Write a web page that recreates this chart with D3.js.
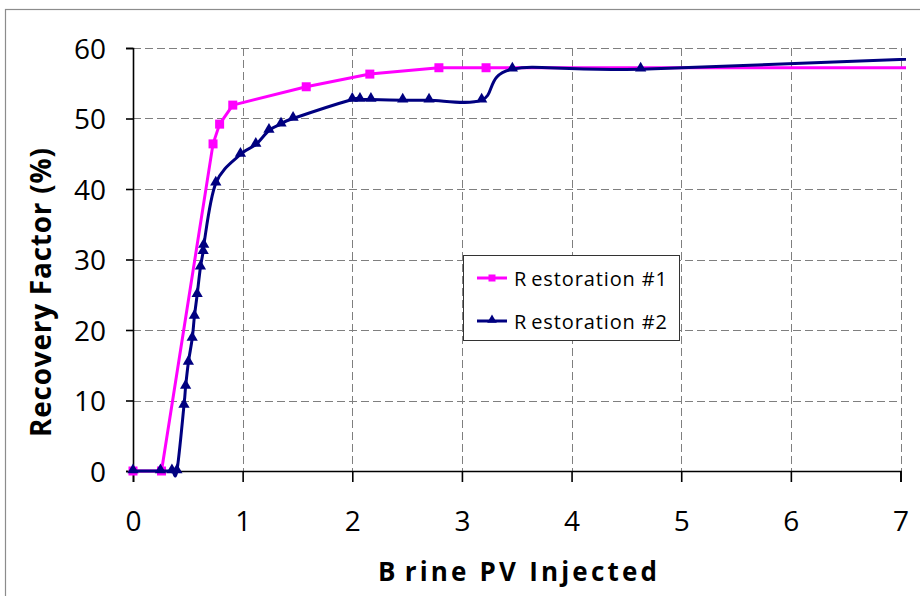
<!DOCTYPE html>
<html>
<head>
<meta charset="utf-8">
<script src="https://cdn.jsdelivr.net/npm/d3@7"></script>
<style>
  body { margin: 0; background: #fff; }
  svg { display: block; font-family: "Open Sans", "Noto Sans", sans-serif; }
</style>
</head>
<body>
<svg id="chart" width="920" height="596"></svg>
<script>
// Axis ticks
const xTicks = [0, 1, 2, 3, 4, 5, 6, 7];
const yTicks = [0, 10, 20, 30, 40, 50, 60];

// Restoration #1 (brine PV injected, recovery factor %)
const r1X = [0, 0.26, 0.73, 0.79, 0.91, 1.58, 2.16, 2.79, 3.22, 7.6];
const r1Y = [0, 0, 46.4, 49.2, 51.9, 54.5, 56.3, 57.2, 57.2, 57.2];

// Restoration #2
const r2X = [0, 0.25, 0.355, 0.40, 0.465, 0.48, 0.505, 0.54, 0.56, 0.585, 0.615, 0.64, 0.645,
             0.755, 0.98, 1.12, 1.24, 1.35, 1.46, 2.0, 2.07, 2.17, 2.46, 2.70, 3.18, 3.46, 4.63, 8.0];
const r2Y = [0, 0, 0, 0, 9.3, 12.0, 15.4, 18.8, 21.9, 25.0, 28.9, 31.1, 32.0,
             40.8, 44.9, 46.3, 48.3, 49.2, 50.0, 52.7, 52.7, 52.7, 52.6, 52.6, 52.6, 57.0, 57.0, 59.0];

const seriesNames = ["Restoration #1", "Restoration #2"];
const seriesColors = ["#ff00ff", "#000080"];

const svg = d3.select("#chart");

const x = d3.scaleLinear().domain([0, 7]).range([133, 900.5]);
const y = d3.scaleLinear().domain([0, 60]).range([471, 48]);

// Outer chart frame
svg.append("rect")
  .attr("x", 5.5).attr("y", 9.5).attr("width", 1000).attr("height", 700)
  .attr("fill", "#fff").attr("stroke", "#8c8c8c").attr("stroke-width", 1.2);

// Dashed gridlines
const grid = svg.append("g").attr("stroke", "#7f7f7f").attr("stroke-width", 1)
  .attr("stroke-dasharray", "8,4").attr("shape-rendering", "crispEdges");
grid.selectAll("line.h").data(yTicks.filter(d => d > 0)).join("line")
  .attr("x1", x(0)).attr("x2", x(7))
  .attr("y1", d => Math.round(y(d)) + 0.5).attr("y2", d => Math.round(y(d)) + 0.5);
grid.selectAll("line.v").data(xTicks.filter(d => d > 0)).join("line")
  .attr("y1", y(60)).attr("y2", y(0))
  .attr("x1", d => Math.round(x(d)) + 0.5).attr("x2", d => Math.round(x(d)) + 0.5);

// Axes
const xAxis = svg.append("g").attr("transform", `translate(0,${y(0)})`)
  .call(d3.axisBottom(x).tickValues(xTicks).tickFormat(d3.format("d")).tickSize(11).tickPadding(29));
const yAxis = svg.append("g").attr("transform", `translate(${x(0)},0)`)
  .call(d3.axisLeft(y).tickValues(yTicks).tickFormat(d3.format("d")).tickSize(7).tickPadding(20));
[xAxis, yAxis].forEach(a => {
  a.select(".domain").attr("stroke", "#000").attr("stroke-width", 1.6);
  a.selectAll(".tick line").attr("stroke", "#000").attr("stroke-width", 1.6);
  a.selectAll(".tick text").attr("fill", "#000").style("font-size", "28px")
    .style("font-family", "'Open Sans', 'Noto Sans', sans-serif");
});
yAxis.selectAll(".tick text").attr("dy", "0.36em");

// Plot clip (lines run slightly past the last gridline)
svg.append("clipPath").attr("id", "plotClip")
  .append("rect").attr("x", 0).attr("y", 0).attr("width", 906).attr("height", 596);

const plot = svg.append("g").attr("clip-path", "url(#plotClip)");

const r1 = r1X.map((v, i) => [v, r1Y[i]]);
const r2 = r2X.map((v, i) => [v, r2Y[i]]);

const straight = d3.line().x(d => x(d[0])).y(d => y(d[1]));
const smooth = d3.line().x(d => x(d[0])).y(d => y(d[1])).curve(d3.curveCardinal.tension(0));

plot.append("path").datum(r1).attr("d", straight)
  .attr("fill", "none").attr("stroke", seriesColors[0]).attr("stroke-width", 3)
  .attr("stroke-linejoin", "round");
plot.selectAll("rect.m1").data(r1).join("rect").attr("class", "m1")
  .attr("x", d => x(d[0]) - 4.5).attr("y", d => y(d[1]) - 4.5)
  .attr("width", 9).attr("height", 9).attr("fill", seriesColors[0]);

plot.append("path").datum(r2).attr("d", smooth)
  .attr("fill", "none").attr("stroke", seriesColors[1]).attr("stroke-width", 3)
  .attr("stroke-linejoin", "round");
const tri = d3.symbol().type(d3.symbolTriangle).size(55);
plot.selectAll("path.m2").data(r2).join("path").attr("class", "m2")
  .attr("d", tri).attr("transform", d => `translate(${x(d[0])},${y(d[1]) - 1})`)
  .attr("fill", seriesColors[1]);

// Legend
const lg = svg.append("g");
lg.append("rect").attr("x", 463.5).attr("y", 255.5).attr("width", 216).attr("height", 85)
  .attr("fill", "#fff").attr("stroke", "#333").attr("stroke-width", 1);
const legendY = [278, 321];
seriesNames.forEach((name, i) => {
  const g = lg.append("g").attr("transform", `translate(0,${legendY[i]})`);
  g.append("line").attr("x1", 477).attr("x2", 507).attr("y1", 0).attr("y2", 0)
    .attr("stroke", seriesColors[i]).attr("stroke-width", 3);
  if (i === 0) {
    g.append("rect").attr("x", 488.5).attr("y", -3.5).attr("width", 7).attr("height", 7)
      .attr("fill", seriesColors[i]);
  } else {
    g.append("path").attr("d", d3.symbol().type(d3.symbolTriangle).size(40))
      .attr("transform", "translate(492,-1)").attr("fill", seriesColors[i]);
  }
  const t = g.append("text").attr("x", 514).attr("y", 8)
    .style("font-size", "20px").attr("fill", "#000")
    .attr("textLength", 153).attr("lengthAdjust", "spacing");
  t.append("tspan").text(name.slice(0, 1));
  t.append("tspan").attr("dx", 4).text(name.slice(1));
});

// Axis titles
const xt = svg.append("text").attr("x", 378).attr("y", 581)
  .style("font-size", "26px").style("font-weight", "bold").attr("fill", "#000")
  .attr("textLength", 279).attr("lengthAdjust", "spacing");
xt.append("tspan").text("B");
xt.append("tspan").attr("dx", 6).text("rine PV Injected");

svg.append("text")
  .attr("transform", "translate(51,437) rotate(-90)")
  .style("font-size", "28px").style("font-weight", "bold").attr("fill", "#000")
  .attr("textLength", 289).attr("lengthAdjust", "spacing")
  .text("Recovery Factor (%)");
</script>
</body>
</html>
